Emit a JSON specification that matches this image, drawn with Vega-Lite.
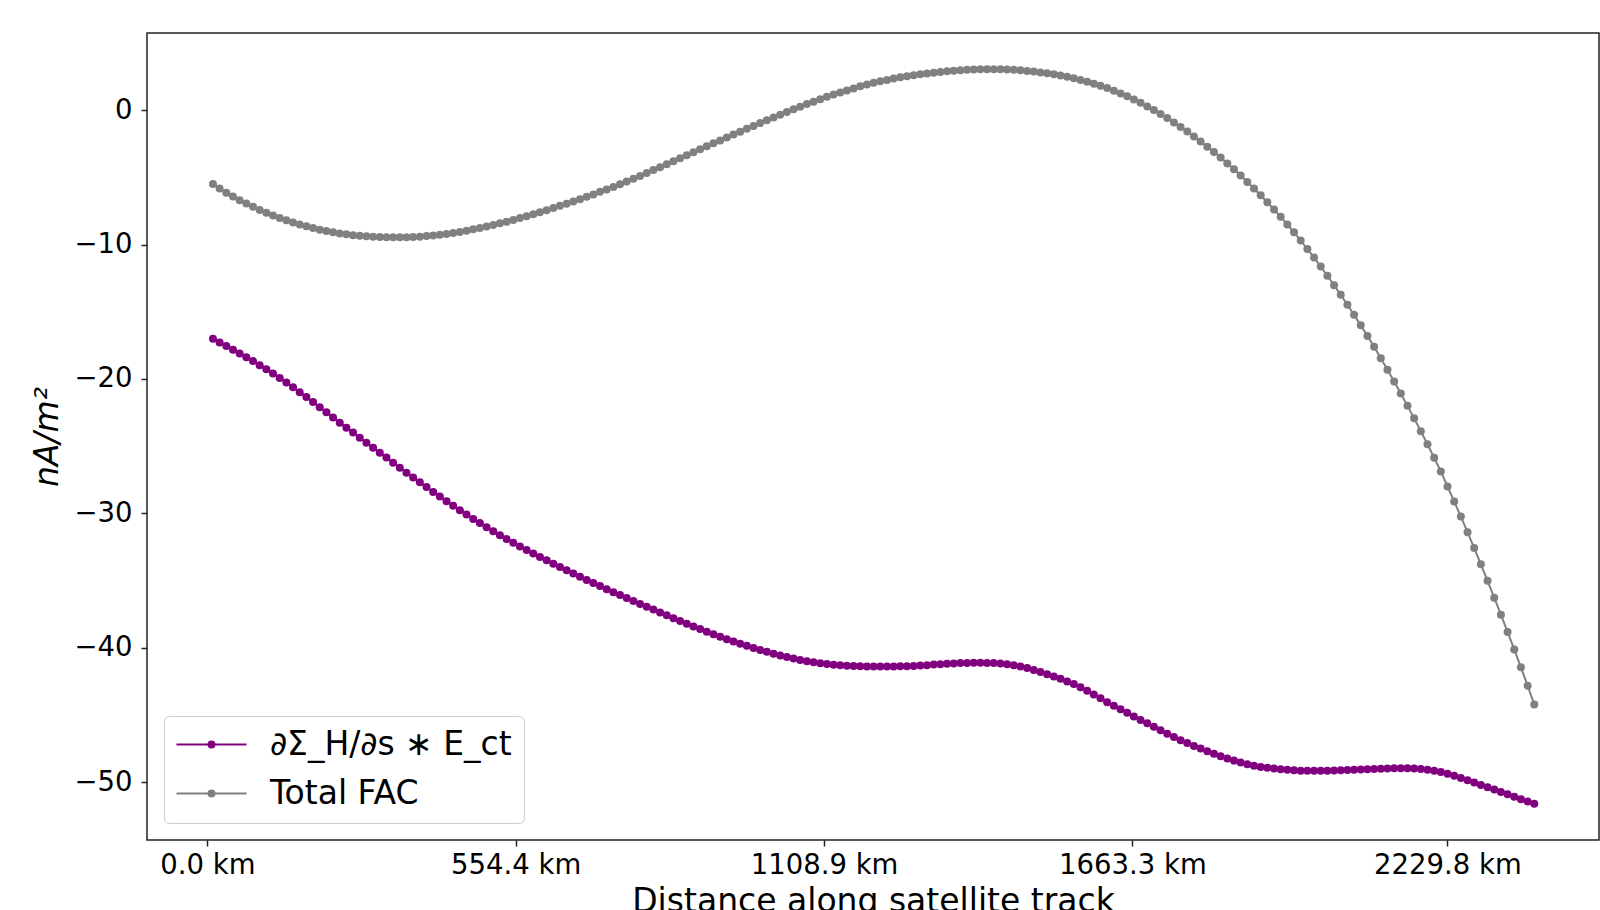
{
  "$schema": "https://vega.github.io/schema/vega-lite/v6.json",
  "width": 1452,
  "height": 807,
  "autosize": {"type": "none"},
  "padding": {"left": 147, "top": 33, "right": 1, "bottom": 70},
  "background": "white",
  "data": {"values": [
    {"d":10,"h":-17.01,"t":-5.50},{"d":22,"h":-17.28,"t":-5.83},{"d":34,"h":-17.55,"t":-6.14},{"d":46,"h":-17.83,"t":-6.43},{"d":58,"h":-18.10,"t":-6.70},
    {"d":70,"h":-18.38,"t":-6.95},{"d":82,"h":-18.67,"t":-7.19},{"d":94,"h":-18.97,"t":-7.42},{"d":106,"h":-19.28,"t":-7.63},{"d":118,"h":-19.60,"t":-7.83},
    {"d":130,"h":-19.93,"t":-8.02},{"d":142,"h":-20.27,"t":-8.19},{"d":154,"h":-20.62,"t":-8.35},{"d":166,"h":-20.98,"t":-8.50},{"d":178,"h":-21.35,"t":-8.64},
    {"d":190,"h":-21.72,"t":-8.77},{"d":202,"h":-22.10,"t":-8.89},{"d":214,"h":-22.48,"t":-9.00},{"d":226,"h":-22.86,"t":-9.09},{"d":238,"h":-23.25,"t":-9.17},
    {"d":250,"h":-23.62,"t":-9.24},{"d":262,"h":-23.99,"t":-9.30},{"d":274,"h":-24.37,"t":-9.35},{"d":286,"h":-24.74,"t":-9.39},{"d":298,"h":-25.11,"t":-9.42},
    {"d":310,"h":-25.48,"t":-9.44},{"d":322,"h":-25.85,"t":-9.45},{"d":334,"h":-26.23,"t":-9.46},{"d":346,"h":-26.60,"t":-9.46},{"d":358,"h":-26.97,"t":-9.45},
    {"d":370,"h":-27.33,"t":-9.43},{"d":382,"h":-27.69,"t":-9.41},{"d":394,"h":-28.04,"t":-9.37},{"d":406,"h":-28.40,"t":-9.33},{"d":418,"h":-28.75,"t":-9.27},
    {"d":430,"h":-29.09,"t":-9.21},{"d":442,"h":-29.43,"t":-9.14},{"d":454,"h":-29.76,"t":-9.06},{"d":466,"h":-30.09,"t":-8.97},{"d":478,"h":-30.41,"t":-8.87},
    {"d":490,"h":-30.72,"t":-8.77},{"d":502,"h":-31.03,"t":-8.66},{"d":514,"h":-31.33,"t":-8.54},{"d":526,"h":-31.62,"t":-8.42},{"d":538,"h":-31.91,"t":-8.30},
    {"d":550,"h":-32.19,"t":-8.17},{"d":562,"h":-32.46,"t":-8.03},{"d":574,"h":-32.73,"t":-7.89},{"d":586,"h":-32.99,"t":-7.75},{"d":598,"h":-33.24,"t":-7.60},
    {"d":610,"h":-33.49,"t":-7.44},{"d":622,"h":-33.74,"t":-7.28},{"d":634,"h":-33.99,"t":-7.12},{"d":646,"h":-34.23,"t":-6.96},{"d":658,"h":-34.47,"t":-6.79},
    {"d":670,"h":-34.71,"t":-6.62},{"d":682,"h":-34.95,"t":-6.44},{"d":694,"h":-35.18,"t":-6.27},{"d":706,"h":-35.41,"t":-6.08},{"d":718,"h":-35.64,"t":-5.90},
    {"d":730,"h":-35.86,"t":-5.71},{"d":742,"h":-36.08,"t":-5.51},{"d":754,"h":-36.30,"t":-5.31},{"d":766,"h":-36.52,"t":-5.11},{"d":778,"h":-36.74,"t":-4.90},
    {"d":790,"h":-36.95,"t":-4.68},{"d":802,"h":-37.16,"t":-4.46},{"d":814,"h":-37.37,"t":-4.24},{"d":826,"h":-37.58,"t":-4.02},{"d":838,"h":-37.80,"t":-3.80},
    {"d":850,"h":-38.01,"t":-3.57},{"d":862,"h":-38.21,"t":-3.35},{"d":874,"h":-38.41,"t":-3.13},{"d":886,"h":-38.61,"t":-2.91},{"d":898,"h":-38.81,"t":-2.69},
    {"d":910,"h":-39.00,"t":-2.47},{"d":922,"h":-39.18,"t":-2.25},{"d":934,"h":-39.36,"t":-2.03},{"d":946,"h":-39.53,"t":-1.81},{"d":958,"h":-39.69,"t":-1.60},
    {"d":970,"h":-39.85,"t":-1.38},{"d":982,"h":-40.01,"t":-1.17},{"d":994,"h":-40.16,"t":-0.96},{"d":1006,"h":-40.30,"t":-0.75},{"d":1018,"h":-40.44,"t":-0.54},
    {"d":1030,"h":-40.57,"t":-0.34},{"d":1042,"h":-40.69,"t":-0.14},{"d":1054,"h":-40.80,"t":0.06},{"d":1066,"h":-40.90,"t":0.26},{"d":1078,"h":-41.00,"t":0.45},
    {"d":1090,"h":-41.08,"t":0.63},{"d":1102,"h":-41.15,"t":0.81},{"d":1114,"h":-41.21,"t":0.99},{"d":1126,"h":-41.26,"t":1.16},{"d":1138,"h":-41.30,"t":1.32},
    {"d":1150,"h":-41.33,"t":1.47},{"d":1162,"h":-41.36,"t":1.62},{"d":1174,"h":-41.38,"t":1.77},{"d":1186,"h":-41.39,"t":1.90},{"d":1198,"h":-41.40,"t":2.03},
    {"d":1210,"h":-41.40,"t":2.15},{"d":1222,"h":-41.40,"t":2.25},{"d":1234,"h":-41.39,"t":2.35},{"d":1246,"h":-41.38,"t":2.44},{"d":1258,"h":-41.37,"t":2.52},
    {"d":1270,"h":-41.35,"t":2.60},{"d":1282,"h":-41.32,"t":2.67},{"d":1294,"h":-41.29,"t":2.73},{"d":1306,"h":-41.25,"t":2.79},{"d":1318,"h":-41.22,"t":2.84},
    {"d":1330,"h":-41.19,"t":2.89},{"d":1342,"h":-41.16,"t":2.93},{"d":1354,"h":-41.14,"t":2.97},{"d":1366,"h":-41.13,"t":3.00},{"d":1378,"h":-41.12,"t":3.02},
    {"d":1390,"h":-41.12,"t":3.04},{"d":1402,"h":-41.13,"t":3.05},{"d":1414,"h":-41.14,"t":3.05},{"d":1426,"h":-41.17,"t":3.04},{"d":1438,"h":-41.22,"t":3.03},
    {"d":1450,"h":-41.29,"t":3.00},{"d":1462,"h":-41.39,"t":2.96},{"d":1474,"h":-41.51,"t":2.92},{"d":1486,"h":-41.65,"t":2.87},{"d":1498,"h":-41.80,"t":2.81},
    {"d":1510,"h":-41.96,"t":2.74},{"d":1522,"h":-42.13,"t":2.67},{"d":1534,"h":-42.31,"t":2.58},{"d":1546,"h":-42.50,"t":2.48},{"d":1558,"h":-42.70,"t":2.37},
    {"d":1570,"h":-42.93,"t":2.25},{"d":1582,"h":-43.19,"t":2.12},{"d":1594,"h":-43.47,"t":1.97},{"d":1606,"h":-43.76,"t":1.81},{"d":1618,"h":-44.05,"t":1.64},
    {"d":1630,"h":-44.31,"t":1.45},{"d":1642,"h":-44.58,"t":1.24},{"d":1654,"h":-44.84,"t":1.03},{"d":1666,"h":-45.11,"t":0.79},{"d":1678,"h":-45.37,"t":0.55},
    {"d":1690,"h":-45.62,"t":0.28},{"d":1702,"h":-45.88,"t":0.01},{"d":1714,"h":-46.13,"t":-0.28},{"d":1726,"h":-46.39,"t":-0.59},{"d":1738,"h":-46.64,"t":-0.91},
    {"d":1750,"h":-46.87,"t":-1.25},{"d":1762,"h":-47.09,"t":-1.59},{"d":1774,"h":-47.30,"t":-1.96},{"d":1786,"h":-47.50,"t":-2.33},{"d":1798,"h":-47.69,"t":-2.72},
    {"d":1810,"h":-47.88,"t":-3.12},{"d":1822,"h":-48.06,"t":-3.53},{"d":1834,"h":-48.23,"t":-3.96},{"d":1846,"h":-48.39,"t":-4.40},{"d":1858,"h":-48.53,"t":-4.86},
    {"d":1870,"h":-48.66,"t":-5.34},{"d":1882,"h":-48.77,"t":-5.83},{"d":1894,"h":-48.86,"t":-6.33},{"d":1906,"h":-48.93,"t":-6.85},{"d":1918,"h":-48.98,"t":-7.39},
    {"d":1930,"h":-49.03,"t":-7.94},{"d":1942,"h":-49.07,"t":-8.51},{"d":1954,"h":-49.11,"t":-9.09},{"d":1966,"h":-49.14,"t":-9.70},{"d":1978,"h":-49.15,"t":-10.33},
    {"d":1990,"h":-49.15,"t":-10.97},{"d":2002,"h":-49.15,"t":-11.64},{"d":2014,"h":-49.14,"t":-12.32},{"d":2026,"h":-49.13,"t":-13.02},{"d":2038,"h":-49.11,"t":-13.74},
    {"d":2050,"h":-49.09,"t":-14.48},{"d":2062,"h":-49.07,"t":-15.23},{"d":2074,"h":-49.05,"t":-16.01},{"d":2086,"h":-49.03,"t":-16.80},{"d":2098,"h":-49.01,"t":-17.61},
    {"d":2110,"h":-48.99,"t":-18.45},{"d":2122,"h":-48.98,"t":-19.31},{"d":2134,"h":-48.97,"t":-20.18},{"d":2146,"h":-48.97,"t":-21.08},{"d":2158,"h":-48.97,"t":-22.00},
    {"d":2170,"h":-48.98,"t":-22.93},{"d":2182,"h":-49.01,"t":-23.89},{"d":2194,"h":-49.07,"t":-24.86},{"d":2206,"h":-49.15,"t":-25.86},{"d":2218,"h":-49.25,"t":-26.88},
    {"d":2230,"h":-49.37,"t":-28.00},{"d":2242,"h":-49.52,"t":-29.11},{"d":2254,"h":-49.68,"t":-30.24},{"d":2266,"h":-49.85,"t":-31.40},{"d":2278,"h":-50.03,"t":-32.58},
    {"d":2290,"h":-50.21,"t":-33.79},{"d":2302,"h":-50.38,"t":-35.02},{"d":2314,"h":-50.55,"t":-36.27},{"d":2326,"h":-50.73,"t":-37.54},{"d":2338,"h":-50.90,"t":-38.82},
    {"d":2350,"h":-51.08,"t":-40.12},{"d":2362,"h":-51.26,"t":-41.45},{"d":2374,"h":-51.43,"t":-42.82},{"d":2386,"h":-51.61,"t":-44.22}
  ]},
  "transform": [{"fold": ["h", "t"], "as": ["series", "value"]}],
  "encoding": {
    "x": {
      "field": "d", "type": "quantitative",
      "scale": {"domain": [-108.6, 2502.4], "nice": false, "zero": false},
      "axis": {
        "values": [0, 554.4, 1108.9, 1663.3, 2229.8],
        "labelExpr": "format(datum.value, '.1f') + ' km'",
        "title": "Distance along satellite track",
        "labelPadding": 5, "titlePadding": 7,
        "labelFlush": false, "labelOverlap": false, "labelBound": false
      }
    },
    "y": {
      "field": "value", "type": "quantitative",
      "scale": {"domain": [-54.3, 5.74], "nice": false, "zero": false},
      "axis": {
        "values": [-50, -40, -30, -20, -10, 0],
        "title": "nA/m²", "titleFontStyle": "italic",
        "labelPadding": 9, "titlePadding": 9
      }
    },
    "color": {
      "field": "series", "type": "nominal",
      "scale": {"domain": ["h", "t"], "range": ["#800080", "#808080"]},
      "legend": {
        "title": null,
        "orient": "bottom-left",
        "offset": 17,
        "labelExpr": "datum.value == 'h' ? '∂Σ_H/∂s ∗ E_ct' : 'Total FAC'",
        "labelFont": "DejaVu Sans",
        "labelFontSize": 33,
        "labelColor": "black",
        "labelLimit": 0,
        "labelOffset": 61,
        "rowPadding": 15,
        "padding": 12,
        "fillColor": "white",
        "strokeColor": "#cccccc",
        "cornerRadius": 5,
        "symbolType": "M-1.6,0L5.4,0M2.2,0A0.3,0.3,0,1,1,1.6,0A0.3,0.3,0,1,1,2.2,0M2.06,0A0.16,0.16,0,1,1,1.74,0A0.16,0.16,0,1,1,2.06,0M1.95,0A0.05,0.05,0,1,1,1.85,0A0.05,0.05,0,1,1,1.95,0",
        "symbolSize": 400,
        "symbolStrokeWidth": 2,
        "symbolOpacity": 1
      }
    }
  },
  "layer": [
    {"mark": {"type": "line", "strokeWidth": 2}},
    {"mark": {"type": "point", "filled": true, "size": 64, "opacity": 1}}
  ],
  "config": {
    "font": "DejaVu Sans",
    "view": {"stroke": "#222222", "strokeWidth": 1.5},
    "axis": {
      "labelFont": "DejaVu Sans", "titleFont": "DejaVu Sans",
      "labelFontSize": 27.5, "titleFontSize": 33,
      "labelColor": "black", "titleColor": "black", "titleFontWeight": "normal",
      "tickColor": "#222222", "tickWidth": 1.5, "tickSize": 6,
      "domain": false, "grid": false
    }
  }
}
